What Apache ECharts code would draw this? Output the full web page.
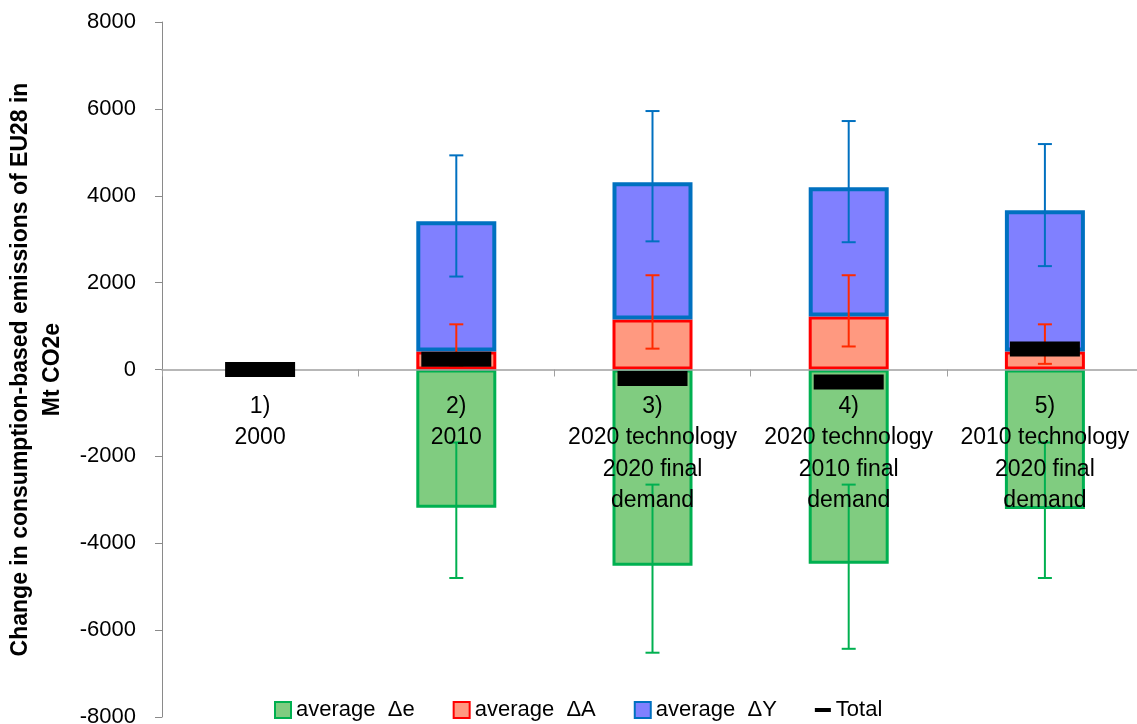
<!DOCTYPE html>
<html>
<head>
<meta charset="utf-8">
<script src="https://cdn.jsdelivr.net/npm/echarts@6/dist/echarts.min.js"></script>
<style>
  html, body { margin: 0; padding: 0; background: #fff; }
  #chart { width: 1137px; height: 724px; }
</style>
</head>
<body>
<div id="chart"></div>
<script>
// categories and values
var categories = ['1)\n2000', '2)\n2010', '3)\n2020 technology\n2020 final\ndemand',
                  '4)\n2020 technology\n2010 final\ndemand', '5)\n2010 technology\n2020 final\ndemand'];
var deltaE = ['-', -3180, -4520, -4470, -3210];
var deltaA = ['-', 415, 1150, 1220, 415];
var deltaY = ['-', 3000, 3160, 2975, 3250];
var total = [0, 235, -210, -290, 470];
// error bar ranges [category, low, high]
var errE = [[1, -4800, -1680], [2, -6520, -2650], [3, -6430, -2650], [4, -4800, -1680]];
var errA = [[1, 80, 1040], [2, 480, 2170], [3, 530, 2170], [4, 130, 1040]];
var errY = [[1, 2140, 4930], [2, 2950, 5950], [3, 2930, 5720], [4, 2380, 5190]];
var yTicks = { min: -8000, max: 8000, step: 2000 };

var FONT = 'Liberation Sans';
var gridTop = 22, gridBottom = 7;
var plotH = 724 - gridTop - gridBottom;
// move the category axis up to the zero line
var zeroOffset = -plotH * (0 - yTicks.min) / (yTicks.max - yTicks.min);

function errorBar(color) {
    return function (params, api) {
        var x = api.value(0);
        var lo = api.coord([x, api.value(1)]);
        var hi = api.coord([x, api.value(2)]);
        var cap = 7;
        var style = { stroke: color, lineWidth: 2 };
        return {
            type: 'group',
            children: [
                { type: 'line', shape: { x1: lo[0], y1: lo[1], x2: hi[0], y2: hi[1] }, style: style },
                { type: 'line', shape: { x1: lo[0] - cap, y1: lo[1], x2: lo[0] + cap, y2: lo[1] }, style: style },
                { type: 'line', shape: { x1: hi[0] - cap, y1: hi[1], x2: hi[0] + cap, y2: hi[1] }, style: style }
            ]
        };
    };
}

var chart = echarts.init(document.getElementById('chart'));
chart.setOption({
    animation: false,
    backgroundColor: '#fff',
    textStyle: { fontFamily: FONT },
    grid: { left: 162, right: -6, top: gridTop, bottom: gridBottom, containLabel: false, outerBoundsMode: 'none' },
    legend: {
        left: 269,
        top: 694,
        itemWidth: 16,
        itemHeight: 16,
        itemGap: 38,
        textStyle: { fontFamily: FONT, fontSize: 22, color: '#000' },
        data: [
            { name: 'average  Δe', icon: 'rect' },
            { name: 'average  ΔA', icon: 'rect' },
            { name: 'average  ΔY', icon: 'rect' },
            { name: 'Total', icon: 'path://M0,0M0,6h16v4h-16zM16,16' }
        ]
    },
    xAxis: {
        type: 'category',
        data: categories,
        z: 5,
        position: 'bottom',
        offset: zeroOffset,
        axisLine: { onZero: false, lineStyle: { color: '#a0a0a0', width: 1.5 } },
        axisTick: { show: true, length: 7, lineStyle: { color: '#a0a0a0' } },
        axisLabel: {
            interval: 0,
            margin: 21,
            fontSize: 23,
            lineHeight: 31.5,
            color: '#000',
            fontFamily: FONT
        },
        splitLine: { show: false }
    },
    yAxis: {
        type: 'value',
        min: yTicks.min,
        max: yTicks.max,
        interval: yTicks.step,
        name: 'Change in consumption-based emissions of EU28 in\nMt CO2e',
        nameLocation: 'middle',
        nameRotate: 90,
        nameGap: 92,
        nameTextStyle: { fontFamily: FONT, fontSize: 23, fontWeight: 'bold', color: '#000', lineHeight: 32 },
        axisLine: { show: true, lineStyle: { color: '#8a8a8a' } },
        axisTick: { show: true, length: 7, lineStyle: { color: '#8a8a8a' } },
        axisLabel: {
            margin: 26, fontSize: 22, color: '#000', fontFamily: FONT,
            formatter: function (v) { return String(v); }
        },
        splitLine: { show: false }
    },
    series: [
        {
            name: 'average  Δe', type: 'bar', stack: 'a', data: deltaE, barWidth: 80,
            itemStyle: { color: '#80cc80', borderColor: '#00b050', borderWidth: 3 }
        },
        {
            name: 'average  ΔA', type: 'bar', stack: 'a', data: deltaA, barWidth: 80,
            itemStyle: { color: '#ff9980', borderColor: '#ff0000', borderWidth: 3 }
        },
        {
            name: 'average  ΔY', type: 'bar', stack: 'a', data: deltaY, barWidth: 80,
            itemStyle: { color: '#8080ff', borderColor: '#0070c0', borderWidth: 4 }
        },
        { type: 'custom', renderItem: errorBar('#00b050'), data: errE, z: 3 },
        { type: 'custom', renderItem: errorBar('#ff2a00'), data: errA, z: 3 },
        { type: 'custom', renderItem: errorBar('#0070c0'), data: errY, z: 3 },
        {
            name: 'Total', type: 'scatter', data: total, symbol: 'rect', symbolSize: [70, 15],
            itemStyle: { color: '#000', opacity: 1 }, z: 10
        }
    ]
});
</script>
</body>
</html>
